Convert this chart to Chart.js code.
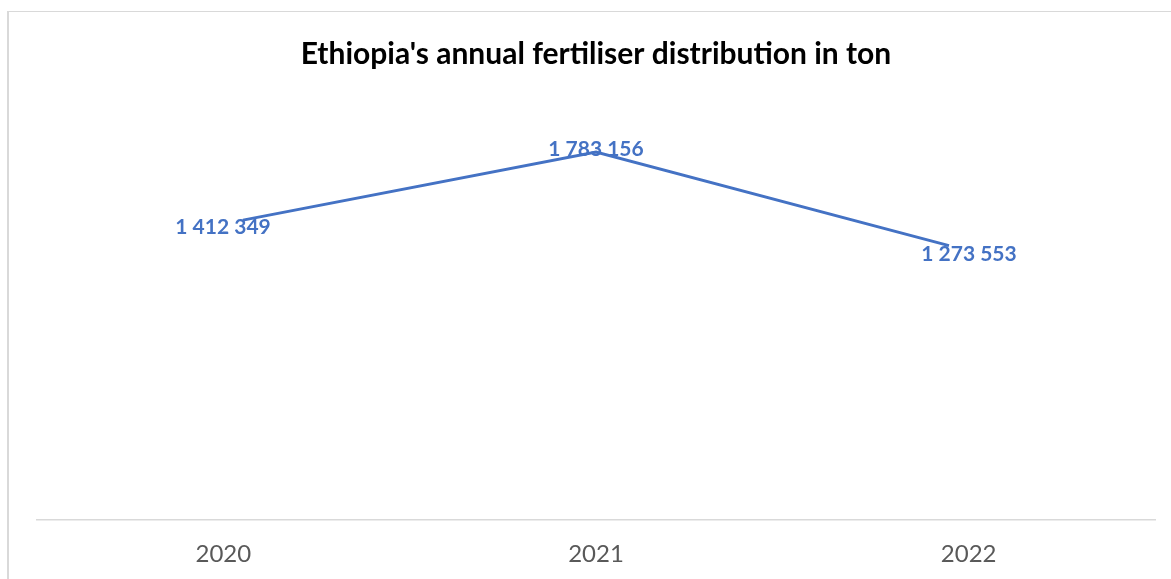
<!DOCTYPE html>
<html>
<head>
<meta charset="utf-8">
<script src="https://cdn.jsdelivr.net/npm/chart.js@4/dist/chart.umd.min.js"></script>
<style>
  html, body { margin: 0; padding: 0; background: #fff; }
  #wrap { position: relative; width: 1171px; height: 579px; overflow: hidden; }
  #frame {
    position: absolute; left: 7px; top: 11px; width: 1200px; height: 600px;
    border-left: 2px solid #d9d9d9; border-top: 1px solid #d9d9d9;
  }
  canvas { position: absolute; left: 0; top: 0; }
</style>
</head>
<body>
<div id="wrap">
  <div id="frame"></div>
  <canvas id="myChart" width="1171" height="579"></canvas>
</div>
<script>
/*** chart data ***/
const years = ["2020", "2021", "2022"];
const tons = [1412349, 1783156, 1273553];

const blue = "#4472C4";

// "1 412 349" style numbers
function spaced(v) {
  return String(v).replace(/\B(?=(\d{3})+(?!\d))/g, " ");
}

// value labels next to each point
const pointLabels = {
  id: "pointLabels",
  afterDatasetsDraw(chart) {
    const ctx = chart.ctx;
    const meta = chart.getDatasetMeta(0);
    const dx = [-20, 0, 20];
    const dy = [7, -3, 9];
    ctx.save();
    ctx.font = "bold 21px Lato";
    ctx.fillStyle = blue;
    ctx.textAlign = "center";
    ctx.textBaseline = "middle";
    meta.data.forEach((pt, i) => {
      ctx.fillText(spaced(tons[i]), pt.x + dx[i], pt.y + dy[i]);
    });
    ctx.restore();
  },
};

var ctx = document.getElementById("myChart").getContext("2d");
var chart = new Chart(ctx, {
  type: "line",
  data: {
    labels: years,
    datasets: [
      {
        label: "ton",
        xAxisID: "xl",
        data: tons.map((v, i) => ({ x: i, y: v })),
        borderColor: blue,
        borderWidth: 3,
        pointRadius: 0,
        tension: 0,
        fill: false,
      },
    ],
  },
  options: {
    responsive: false,
    animation: false,
    layout: { padding: { left: 37, right: 16, top: 0, bottom: -2 } },
    plugins: {
      legend: { display: false },
      tooltip: { enabled: false },
      title: {
        display: true,
        text: "Ethiopia's annual fertiliser distribution in ton",
        color: "#000",
        font: { family: "Lato", size: 30, weight: "bold" },
        padding: { top: 36, bottom: 8 },
      },
    },
    scales: {
      x: {
        type: "category",
        offset: true,
        grid: { display: false },
        border: { color: "#d9d9d9", width: 1.5 },
        ticks: { color: "#595959", font: { family: "Lato", size: 24 }, padding: 12 },
      },
      xl: {
        type: "linear",
        display: false,
        min: -0.5836,
        max: 2.5836,
      },
      y: {
        display: false,
        min: -223000,
        max: 2176000,
      },
    },
  },
  plugins: [pointLabels],
});
</script>
</body>
</html>
